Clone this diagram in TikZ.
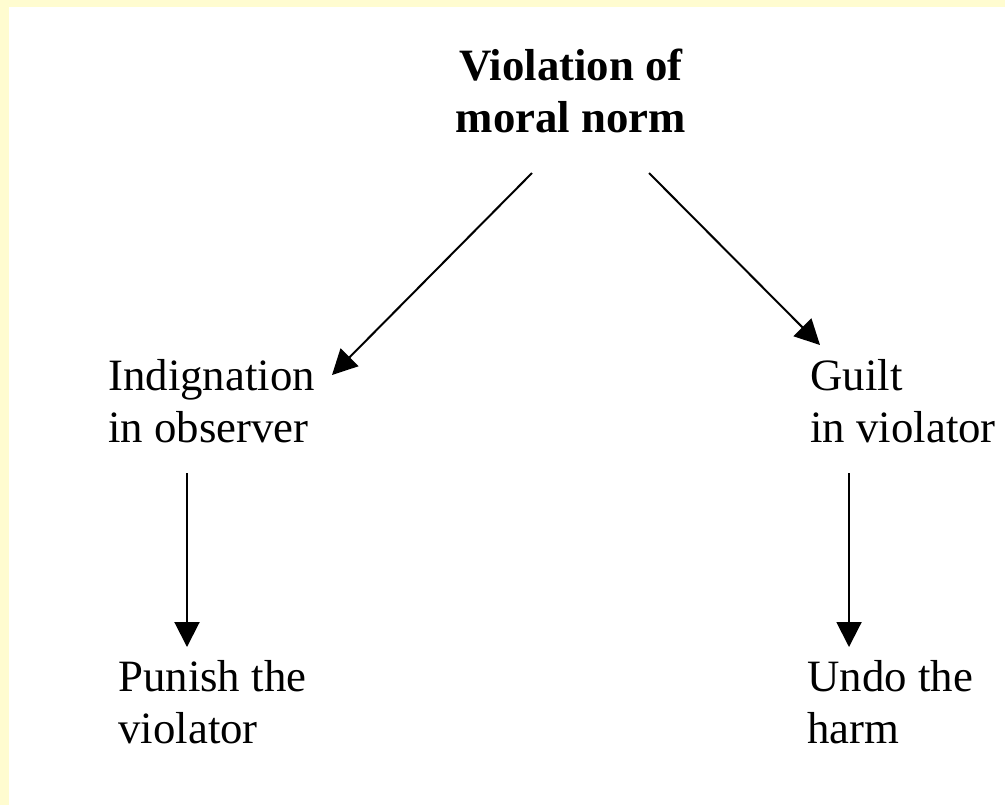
\documentclass[tikz,border=0pt]{standalone}
\usepackage{fontspec}
\setmainfont{Liberation Serif}
\usepackage{xcolor}
\usepackage{tikz}
\usetikzlibrary{arrows.meta,backgrounds}
\definecolor{paleyellow}{RGB}{255,252,208}
\tikzstyle{cause}=[inner sep=0pt,align=center,anchor=base,font=\fontsize{22.4}{26}\selectfont\bfseries]
\tikzstyle{feeling}=[inner sep=0pt,align=left,anchor=base west,font=\fontsize{22.4}{26}\selectfont]
\tikzstyle{act}=[inner sep=0pt,align=left,anchor=base west,font=\fontsize{22.4}{26}\selectfont]
\tikzstyle{link}=[black,line width=1pt,-{Triangle[length=12.5pt,width=12.5pt]}]

\begin{document}
\begin{tikzpicture}[x=0.5pt,y=-0.5pt]
  \useasboundingbox (0,0) rectangle (1005,805);
  \fill [paleyellow] (0,0) rectangle (1005,805);
  \fill [white] (9,7) rectangle (1005,805);
  \node at (571,132) [cause] (Violation) {Violation of\\moral norm};
  \node at (108,442) [feeling] (Indignation) {Indignation\\in observer};
  \node at (810,442) [feeling] (Guilt) {Guilt\\in violator};
  \node at (118,743) [act] (Punish) {Punish the\\violator};
  \node at (807,743) [act] (Undo) {Undo the\\harm};
  \draw [link] ([shift={(-39,41)}]Violation.base) to ([shift={(224,-67)}]Indignation.base west);
  \draw [link] ([shift={(78,41)}]Violation.base) to ([shift={(10,-97)}]Guilt.base west);
  \draw [link] ([shift={(79,31)}]Indignation.base west) to ([shift={(69,-96)}]Punish.base west);
  \draw [link] ([shift={(39,31)}]Guilt.base west) to ([shift={(42,-96)}]Undo.base west);
\end{tikzpicture}
\end{document}
